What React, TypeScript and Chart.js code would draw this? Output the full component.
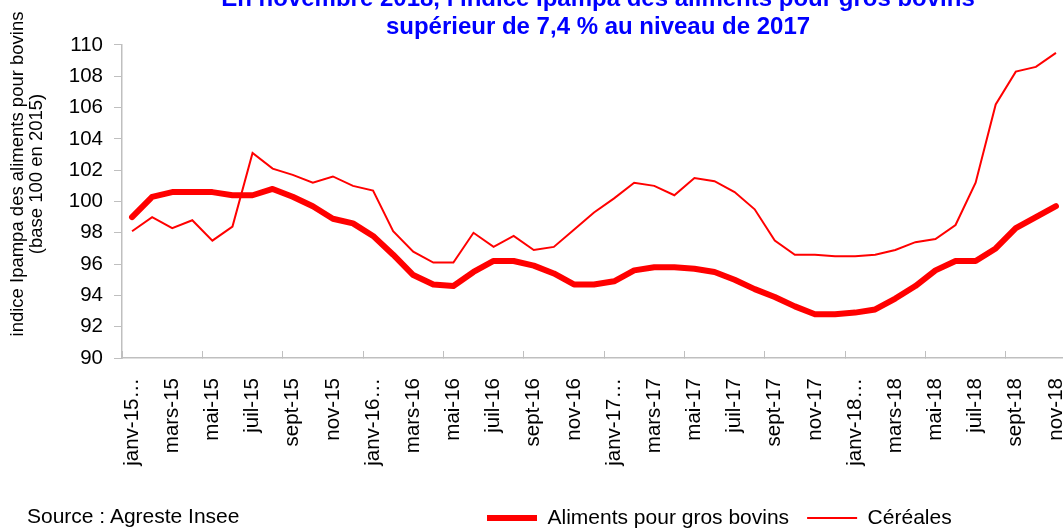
import React, { useEffect, useRef } from "react";
import { Chart, registerables } from "chart.js";

Chart.register(...registerables);

const FONT = "'Liberation Sans', Arial, Helvetica, sans-serif";

const titleLines = [
  "En novembre 2018, l’indice Ipampa des aliments pour gros bovins",
  "supérieur de 7,4 % au niveau de 2017",
];

const yTitleLines = ["indice Ipampa des aliments pour bovins", "(base 100 en 2015)"];

const sourceText = "Source : Agreste Insee";

const categories = [
  "janv-15", "févr-15", "mars-15", "avr-15", "mai-15", "juin-15", "juil-15", "août-15", "sept-15", "oct-15", "nov-15", "déc-15",
  "janv-16", "févr-16", "mars-16", "avr-16", "mai-16", "juin-16", "juil-16", "août-16", "sept-16", "oct-16", "nov-16", "déc-16",
  "janv-17", "févr-17", "mars-17", "avr-17", "mai-17", "juin-17", "juil-17", "août-17", "sept-17", "oct-17", "nov-17", "déc-17",
  "janv-18", "févr-18", "mars-18", "avr-18", "mai-18", "juin-18", "juil-18", "août-18", "sept-18", "oct-18", "nov-18",
];

const xTickLabels = [
  "janv-15…", "", "mars-15", "", "mai-15", "", "juil-15", "", "sept-15", "", "nov-15", "",
  "janv-16…", "", "mars-16", "", "mai-16", "", "juil-16", "", "sept-16", "", "nov-16", "",
  "janv-17…", "", "mars-17", "", "mai-17", "", "juil-17", "", "sept-17", "", "nov-17", "",
  "janv-18…", "", "mars-18", "", "mai-18", "", "juil-18", "", "sept-18", "", "nov-18",
];

const alimentsGrosBovins = [
  99.0, 100.3, 100.6, 100.6, 100.6, 100.4, 100.4, 100.8, 100.3, 99.7, 98.9, 98.6,
  97.8, 96.6, 95.3, 94.7, 94.6, 95.5, 96.2, 96.2, 95.9, 95.4, 94.7, 94.7,
  94.9, 95.6, 95.8, 95.8, 95.7, 95.5, 95.0, 94.4, 93.9, 93.3, 92.8, 92.8,
  92.9, 93.1, 93.8, 94.6, 95.6, 96.2, 96.2, 97.0, 98.3, 99.0, 99.7,
];

const cereales = [
  98.1, 99.0, 98.3, 98.8, 97.5, 98.4, 103.1, 102.1, 101.7, 101.2, 101.6, 101.0,
  100.7, 98.1, 96.8, 96.1, 96.1, 98.0, 97.1, 97.8, 96.9, 97.1, 98.2, 99.3,
  100.2, 101.2, 101.0, 100.4, 101.5, 101.3, 100.6, 99.5, 97.5, 96.6, 96.6, 96.5,
  96.5, 96.6, 96.9, 97.4, 97.6, 98.5, 101.2, 106.2, 108.3, 108.6, 109.5,
];

const yMin = 90;
const yMax = 110;
const yStep = 2;

// layout constants (canvas coordinates)
const CANVAS_W = 1196;
const CANVAS_H = 546;
const CANVAS_TOP = -17;
const PLOT_LEFT = 122;
const PLOT_BOTTOM = 375;
const RIGHT_PAD = 130;
const LEGEND_X = 487;
const LEGEND_Y = 535;
const LEGEND_PAD = 18;
const LEGEND_FONT = 21;

const legendShift = {
  id: "legendShift",
  afterLayout(chart: any) {
    const lg = chart.legend;
    if (!lg) return;
    const dx = LEGEND_X - (lg.left + LEGEND_PAD);
    const dy = LEGEND_Y - (lg.top + LEGEND_PAD + LEGEND_FONT / 2);
    lg.left += dx;
    lg.right += dx;
    lg.top += dy;
    lg.bottom += dy;
  },
};

const yTitlePlugin = {
  id: "yTitle",
  afterDraw(chart: any) {
    const ctx = chart.ctx as CanvasRenderingContext2D;
    ctx.save();
    ctx.fillStyle = "#000";
    ctx.font = `18.5px ${FONT}`;
    ctx.textAlign = "center";
    ctx.textBaseline = "middle";
    const cy = 174 - CANVAS_TOP;
    const xs = [18, 37];
    yTitleLines.forEach((line, i) => {
      ctx.save();
      ctx.translate(xs[i], cy);
      ctx.rotate(-Math.PI / 2);
      ctx.fillText(line, 0, 0);
      ctx.restore();
    });
    ctx.restore();
  },
};

export default function App() {
  const ref = useRef<HTMLCanvasElement>(null);

  useEffect(() => {
    const canvas = ref.current;
    if (!canvas) return;
    const chart = new Chart(canvas, {
      type: "line",
      data: {
        labels: categories,
        datasets: [
          {
            label: "Aliments pour gros bovins",
            data: alimentsGrosBovins,
            borderColor: "#ff0000",
            backgroundColor: "#ff0000",
            borderWidth: 6,
            pointRadius: 0,
            tension: 0,
            borderCapStyle: "round",
            borderJoinStyle: "round",
          },
          {
            label: "Céréales",
            data: cereales,
            borderColor: "#ff0000",
            backgroundColor: "#ff0000",
            borderWidth: 2,
            pointRadius: 0,
            tension: 0,
          },
        ],
      },
      options: {
        responsive: false,
        animation: false,
        layout: { padding: 0 },
        plugins: {
          title: {
            display: true,
            text: titleLines,
            color: "#0000ff",
            font: { family: FONT, size: 24, weight: "bold", lineHeight: 1.15 },
            padding: { top: 3, bottom: 3.8 },
          },
          legend: {
            display: true,
            position: "bottom",
            align: "start",
            labels: {
              usePointStyle: true,
              pointStyle: "line",
              pointStyleWidth: 50,
              padding: LEGEND_PAD,
              color: "#000",
              font: { family: FONT, size: LEGEND_FONT },
            },
          },
          tooltip: { enabled: false },
        },
        scales: {
          x: {
            type: "category",
            offset: true,
            grid: {
              display: true,
              offset: true,
              drawOnChartArea: false,
              drawTicks: true,
              tickLength: -7,
              lineWidth: 1,
              color: (c: any) => (c.index % 4 === 0 ? "#bfbfbf" : "rgba(0,0,0,0)"),
            },
            border: { display: true, color: "#bfbfbf", width: 1.5 },
            ticks: {
              autoSkip: false,
              maxRotation: 90,
              minRotation: 90,
              padding: 27,
              color: "#000",
              font: { family: FONT, size: 20.5 },
              callback: (_v: any, i: number) => xTickLabels[i],
            },
            afterFit: (s: any) => {
              const lh = s.chart.legend ? s.chart.legend.height : 0;
              s.height = CANVAS_H - PLOT_BOTTOM - lh;
            },
          },
          y: {
            min: yMin,
            max: yMax,
            grid: {
              display: true,
              drawOnChartArea: false,
              drawTicks: true,
              tickLength: 8,
              lineWidth: 1,
              color: "#bfbfbf",
            },
            border: { display: true, color: "#bfbfbf", width: 1.5 },
            ticks: {
              stepSize: yStep,
              padding: 11,
              color: "#000",
              font: { family: FONT, size: 20.5 },
            },
            afterFit: (s: any) => {
              s.width = PLOT_LEFT;
            },
          },
          yPad: {
            type: "linear",
            position: "right",
            display: true,
            grid: { display: false },
            border: { display: false },
            ticks: { display: false },
            afterFit: (s: any) => {
              s.width = RIGHT_PAD;
            },
          },
        },
      } as any,
      plugins: [legendShift, yTitlePlugin],
    });
    return () => chart.destroy();
  }, []);

  return (
    <div
      style={{
        position: "fixed",
        left: 0,
        top: 0,
        width: 1063,
        height: 529,
        overflow: "hidden",
        background: "#fff",
      }}
    >
      <canvas
        ref={ref}
        width={CANVAS_W}
        height={CANVAS_H}
        style={{ position: "absolute", left: 0, top: CANVAS_TOP, width: CANVAS_W, height: CANVAS_H }}
      />
      <div
        style={{
          position: "absolute",
          left: 27,
          top: 505,
          font: `21px ${FONT}`,
          lineHeight: "21px",
          color: "#000",
          whiteSpace: "nowrap",
        }}
      >
        {sourceText}
      </div>
    </div>
  );
}
